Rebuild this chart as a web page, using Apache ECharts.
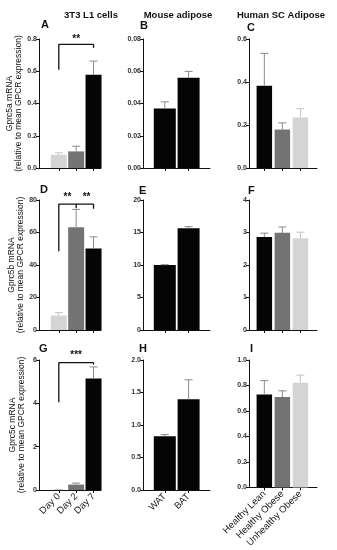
<!DOCTYPE html>
<html><head><meta charset="utf-8">
<script src="https://cdn.jsdelivr.net/npm/echarts@6/dist/echarts.min.js"></script>
<style>html,body{margin:0;padding:0;background:#fff}#c{width:337px;height:550px}</style>
</head><body><div id="c"></div>
<script>
// ---- text ----
const columnTitles = ['3T3 L1 cells', 'Mouse adipose', 'Human SC Adipose'];
const panelLetters = ['A', 'B', 'C', 'D', 'E', 'F', 'G', 'H', 'I'];
const geneNames = ['Gprc5a mRNA', 'Gprc5b mRNA', 'Gprc5c mRNA'];
const yAxisSubtitle = '(relative to mean GPCR expression)';

// ---- categories ----
const cellDays = ['Day 0', 'Day 2', 'Day 7'];
const mouseTissues = ['WAT', 'BAT'];
const humanGroups = ['Healthy Lean', 'Healthy Obese', 'Unhealthy Obese'];

// ---- values (mean, SEM) ----
const gprc5aCells = [0.082, 0.103, 0.578];
const gprc5aCellsSem = [0.012, 0.032, 0.085];
const gprc5aMouse = [0.0369, 0.0560];
const gprc5aMouseSem = [0.0041, 0.0039];
const gprc5aHuman = [0.383, 0.179, 0.235];
const gprc5aHumanSem = [0.150, 0.031, 0.041];

const gprc5bCells = [8.9, 63.3, 50.1];
const gprc5bCellsSem = [1.8, 10.9, 7.2];
const gprc5bMouse = [10.0, 15.66];
const gprc5bMouseSem = [0.05, 0.24];
const gprc5bHuman = [2.86, 2.99, 2.82];
const gprc5bHumanSem = [0.12, 0.18, 0.19];

const gprc5cCells = [0.01, 0.25, 5.15];
const gprc5cCellsSem = [0.01, 0.07, 0.53];
const gprc5cMouse = [0.827, 1.395];
const gprc5cMouseSem = [0.026, 0.30];
const gprc5cHuman = [0.729, 0.709, 0.822];
const gprc5cHumanSem = [0.109, 0.049, 0.059];

// ---- y-axis ticks ----
const yMaxes = [0.8, 0.08, 0.6, 80, 20, 4, 6, 2, 1];
const yIntervals = [0.2, 0.02, 0.2, 20, 5, 1, 2, 0.5, 0.2];
const yDecimals = [1, 2, 1, 0, 0, 0, 0, 1, 1];

// ---- significance brackets (segments in data space) ----
const bracketA = [[0, 0.609, 0, 0.767], [0, 0.767, 2, 0.767], [2, 0.767, 2, 0.745]];
const starsA = [[1, 0.80]];
const starsAText = ['**'];
const bracketD = [[0, 48.5, 0, 77.5], [0, 77.5, 2, 77.5], [1, 77.5, 1, 75.0], [2, 77.5, 2, 74.6]];
const starsD = [[0.5, 81.4], [1.6, 81.4]];
const starsDText = ['**', '**'];
const bracketG = [[0, 4.05, 0, 5.88], [0, 5.88, 2, 5.88], [2, 5.88, 2, 5.79]];
const starsG = [[1, 6.2]];
const starsGText = ['***'];

// ---- styles / layout ----
const FONT = '"Liberation Sans", Arial, sans-serif';
const lightGray = '#d4d4d4', midGray = '#737373', black = '#050505';
const cellColors = [lightGray, midGray, black];
const mouseColors = [black, black];
const humanColors = [black, midGray, lightGray];
const colLeft = [39, 143, 249];
const colWidth = [62, 67, 68];
const rowTop = [39, 200, 360];
const rowHeight = [129, 130, 130];
const colXMin = [-1.14, -0.916, -0.85];
const colXMax = [2.43, 1.9, 2.92];
const colBarWidth = [16, 22, 15.5];

const panels = [
  { means: gprc5aCells, sem: gprc5aCellsSem, cats: cellDays, colors: cellColors, bracket: bracketA, stars: starsA, starsText: starsAText },
  { means: gprc5aMouse, sem: gprc5aMouseSem, cats: mouseTissues, colors: mouseColors },
  { means: gprc5aHuman, sem: gprc5aHumanSem, cats: humanGroups, colors: humanColors },
  { means: gprc5bCells, sem: gprc5bCellsSem, cats: cellDays, colors: cellColors, bracket: bracketD, stars: starsD, starsText: starsDText },
  { means: gprc5bMouse, sem: gprc5bMouseSem, cats: mouseTissues, colors: mouseColors },
  { means: gprc5bHuman, sem: gprc5bHumanSem, cats: humanGroups, colors: humanColors },
  { means: gprc5cCells, sem: gprc5cCellsSem, cats: cellDays, colors: cellColors, bracket: bracketG, stars: starsG, starsText: starsGText },
  { means: gprc5cMouse, sem: gprc5cMouseSem, cats: mouseTissues, colors: mouseColors },
  { means: gprc5cHuman, sem: gprc5cHumanSem, cats: humanGroups, colors: humanColors }
];

const letterPos = [[41, 25], [140, 26], [247, 27.5], [40, 190], [139, 191], [248, 190.5], [39, 349], [139, 349], [250, 349]];
const titleCenters = [91, 178, 281];

const grid = [], xAxis = [], yAxis = [], series = [];

panels.forEach((p, i) => {
  const row = Math.floor(i / 3), col = i % 3;
  const idxs = p.cats.map((_, k) => k);
  grid.push({ left: colLeft[col], top: rowTop[row], width: colWidth[col], height: rowHeight[row], containLabel: false });
  xAxis.push({
    gridIndex: i, type: 'value', min: colXMin[col], max: colXMax[col],
    axisLine: { show: true, onZero: false, lineStyle: { color: '#111', width: 1 } },
    splitLine: { show: false },
    axisTick: { show: true, customValues: idxs, length: 3, lineStyle: { color: '#111', width: 1 } },
    axisLabel: {
      show: row === 2, customValues: idxs, rotate: 45, fontSize: 9.5, color: '#1a1a1a', fontFamily: FONT, margin: 5,
      formatter: v => p.cats[Math.round(v)]
    }
  });
  yAxis.push({
    gridIndex: i, type: 'value', min: 0, max: yMaxes[i], interval: yIntervals[i],
    axisLine: { show: true, onZero: false, lineStyle: { color: '#111', width: 1 } },
    axisTick: { show: true, length: 3, lineStyle: { color: '#111', width: 1 } },
    splitLine: { show: false },
    axisLabel: { fontSize: 7, fontWeight: 'bold', color: '#333', fontFamily: FONT, margin: 2, formatter: v => v.toFixed(yDecimals[i]) },
    name: col === 0 ? geneNames[row] + '\n' + yAxisSubtitle : '',
    nameLocation: 'middle', nameGap: 13,
    nameTextStyle: { fontSize: 8.5, lineHeight: 9, color: '#111', fontFamily: FONT }
  });
  series.push({
    type: 'bar', xAxisIndex: i, yAxisIndex: i, barWidth: colBarWidth[col], silent: true,
    data: p.means.map((m, k) => ({ value: [k, m], itemStyle: { color: p.colors[k] } }))
  });
  series.push({
    type: 'custom', xAxisIndex: i, yAxisIndex: i, silent: true, z: 3,
    encode: { x: 0, y: [1, 2] },
    data: p.means.map((m, k) => [k, m, m + p.sem[k]]),
    renderItem: (params, api) => {
      const k = api.value(0);
      const a = api.coord([k, api.value(1)]);
      const b = api.coord([k, api.value(2)]);
      const c = p.colors[Math.round(k)] === lightGray ? '#c4c4c4' : '#8a8a8a';
      const hw = 4;
      return {
        type: 'group', children: [
          { type: 'line', shape: { x1: a[0], y1: a[1], x2: b[0], y2: b[1] }, style: { stroke: c, lineWidth: 1 } },
          { type: 'line', shape: { x1: b[0] - hw, y1: b[1], x2: b[0] + hw, y2: b[1] }, style: { stroke: c, lineWidth: 1 } }
        ]
      };
    }
  });
  if (p.bracket) {
    series.push({
      type: 'custom', xAxisIndex: i, yAxisIndex: i, silent: true, z: 4, clip: false,
      encode: { x: [0, 2], y: [1, 3] },
      data: p.bracket,
      renderItem: (params, api) => {
        const a = api.coord([api.value(0), api.value(1)]);
        const b = api.coord([api.value(2), api.value(3)]);
        return { type: 'line', shape: { x1: a[0], y1: a[1], x2: b[0], y2: b[1] }, style: { stroke: '#111', lineWidth: 1.3 } };
      }
    });
    series.push({
      type: 'custom', xAxisIndex: i, yAxisIndex: i, silent: true, z: 4, clip: false,
      encode: { x: 0, y: 1 },
      data: p.stars,
      renderItem: (params, api) => {
        const a = api.coord([api.value(0), api.value(1)]);
        return {
          type: 'text', x: a[0], y: a[1],
          style: { text: p.starsText[params.dataIndex], align: 'center', verticalAlign: 'middle', font: 'bold 10px ' + FONT, fill: '#111' }
        };
      }
    });
  }
});

const graphic = [];
columnTitles.forEach((t, c) => {
  graphic.push({ type: 'text', x: titleCenters[c], y: 15, style: { text: t, align: 'center', verticalAlign: 'middle', font: 'bold 9.5px ' + FONT, fill: '#111' } });
});
panelLetters.forEach((t, i) => {
  graphic.push({ type: 'text', x: letterPos[i][0], y: letterPos[i][1], style: { text: t, align: 'left', verticalAlign: 'middle', font: 'bold 11px ' + FONT, fill: '#111' } });
});

const chart = echarts.init(document.getElementById('c'), null, { renderer: 'canvas' });
chart.setOption({ animation: false, backgroundColor: '#fff', grid, xAxis, yAxis, series, graphic });
</script></body></html>
